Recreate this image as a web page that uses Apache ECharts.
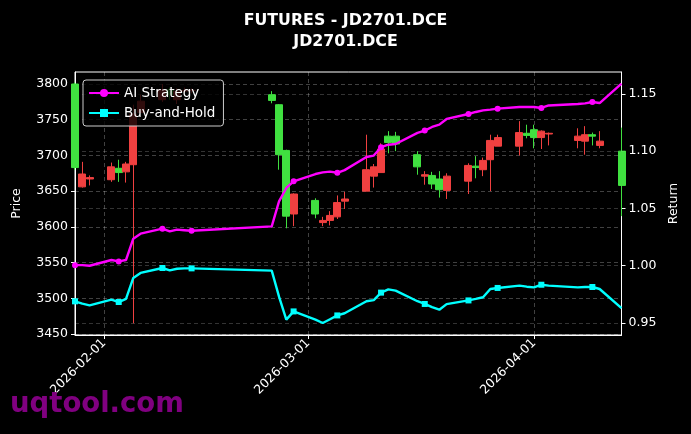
<!DOCTYPE html>
<html><head><meta charset="utf-8">
<script src="https://cdn.jsdelivr.net/npm/echarts@6/dist/echarts.min.js"></script>
<style>html,body{margin:0;padding:0;background:#000}#c{width:691px;height:434px}</style>
</head><body><div id="c"></div>
<script>
const dates = ['2026-01-28','2026-01-29','2026-01-30','2026-02-02','2026-02-03','2026-02-04','2026-02-05','2026-02-06',
  '2026-02-09','2026-02-10','2026-02-11','2026-02-12','2026-02-13',
  '2026-02-24','2026-02-25','2026-02-26','2026-02-27',
  '2026-03-02','2026-03-03','2026-03-04','2026-03-05','2026-03-06',
  '2026-03-09','2026-03-10','2026-03-11','2026-03-12','2026-03-13',
  '2026-03-16','2026-03-17','2026-03-18','2026-03-19','2026-03-20',
  '2026-03-23','2026-03-24','2026-03-25','2026-03-26','2026-03-27',
  '2026-03-30','2026-03-31','2026-04-01','2026-04-02','2026-04-03',
  '2026-04-07','2026-04-08','2026-04-09','2026-04-10','2026-04-13'];
const openP  = [3800,3656,3667,3666,3682,3677,3687,3760, 3778,3792,3778,3790,3791, 3785,3771,3707,3618, 3637,3606,3609,3614,3636, 3650,3671,3676,3727,3727, 3701,3671,3672,3667,3651, 3664,3685,3680,3694,3713, 3713,3731,3736,3725,3730, 3721,3720,3729,3714,3706];
const closeP = [3683,3674,3669,3684,3676,3688,3758,3776, 3792,3785,3790,3791,3791, 3777,3701,3615,3646, 3618,3609,3616,3634,3639, 3680,3684,3709,3718,3716, 3684,3673,3660,3652,3671, 3686,3683,3693,3721,3725, 3732,3728,3725,3734,3731, 3727,3729,3727,3720,3658];
const lowP   = [3680,3655,3658,3663,3663,3662,3465,3765, 3775,3778,3772,3786,3787, 3773,3680,3598,3601, 3612,3601,3602,3611,3625, 3650,3655,3676,3703,3706, 3673,3659,3653,3641,3639, 3646,3668,3671,3650,3713, 3700,3724,3710,3709,3714, 3710,3701,3714,3710,3615];
const highP  = [3802,3691,3672,3690,3694,3691,3771,3785, 3800,3795,3794,3795,3794, 3790,3772,3708,3647, 3640,3614,3622,3644,3649, 3729,3688,3717,3734,3733, 3706,3678,3677,3678,3675, 3689,3699,3697,3729,3729, 3748,3743,3743,3735,3732, 3738,3741,3732,3734,3739];
const aiStrategy = [1.0005,1.0005,1.0000,1.0050,1.0038,1.0050,1.0236,1.0280, 1.0324,1.0300,1.0315,1.0310,1.0305, 1.0344,1.0562,1.0679,1.0737, 1.0801,1.0815,1.0822,1.0812,1.0835, 1.0950,1.0962,1.1035,1.1057,1.1063, 1.1160,1.1180,1.1212,1.1232,1.1282, 1.1325,1.1343,1.1357,1.1363,1.1372, 1.1386,1.1386,1.1386,1.1378,1.1400, 1.1413,1.1418,1.1430,1.1421,1.1590];
const buyHold = [0.9689,0.9669,0.9654,0.9704,0.9683,0.9710,0.9893,0.9937, 0.9980,0.9960,0.9974,0.9977,0.9977, 0.9957,0.9730,0.9529,0.9601, 0.9530,0.9500,0.9533,0.9566,0.9585, 0.9690,0.9700,0.9765,0.9793,0.9782, 0.9690,0.9666,0.9638,0.9616,0.9665, 0.9697,0.9710,0.9725,0.9797,0.9806, 0.9826,0.9817,0.9811,0.9834,0.9826, 0.9811,0.9814,0.9814,0.9797,0.9630];
const xTickLabels = ['2026-02-01','2026-03-01','2026-04-01'];
const priceTicks = [3450,3500,3550,3600,3650,3700,3750,3800];
const returnTicks = [0.95,1.00,1.05,1.10,1.15];

function ts(s){const p=s.split('-').map(Number);return Date.UTC(p[0],p[1]-1,p[2]);}
function fmt(v){const d=new Date(v);const m=d.getUTCMonth()+1,dd=d.getUTCDate();return d.getUTCFullYear()+'-'+(m<10?'0':'')+m+'-'+(dd<10?'0':'')+dd;}
const T = dates.map(ts);
const candle = T.map((t,i)=>[t,openP[i],closeP[i],lowP[i],highP[i]]);
const aiData = T.map((t,i)=>({value:[t,aiStrategy[i]], symbol: i%4===0?'circle':'none'}));
const bhData = T.map((t,i)=>({value:[t,buyHold[i]], symbol: i%4===0?'rect':'none'}));
const xTicksTs = xTickLabels.map(ts);
const FONT = 'DejaVu Sans';
const gridLine = {show:true, lineStyle:{color:'rgba(255,255,255,0.32)', type:[4,3], width:0.8}};

const chart = echarts.init(document.getElementById('c'));
chart.setOption({
  backgroundColor:'#000',
  animation:false,
  title:{text:'FUTURES - JD2701.DCE\nJD2701.DCE', left:'center', top:5,
    textStyle:{color:'#fff', fontSize:15.8, fontWeight:'bold', lineHeight:21, fontFamily:FONT}},
  legend:{left:83, top:80, orient:'vertical', backgroundColor:'rgba(0,0,0,0.8)', borderColor:'#cccccc', borderWidth:1, borderRadius:3,
    padding:[6,8,6,5], itemGap:6, itemWidth:30, itemHeight:10,
    textStyle:{color:'#fff', fontSize:13.5, fontFamily:FONT}, data:['AI Strategy','Buy-and-Hold']},
  grid:{left:75, right:69.5, top:72, bottom:99, show:true, borderColor:'#fff', borderWidth:1, backgroundColor:'#000'},
  xAxis:{type:'value', min:T[0], max:T[T.length-1], scale:true,
    axisLine:{lineStyle:{color:'#fff'}},
    axisTick:{show:true, length:4, lineStyle:{color:'#fff'}, customValues:xTicksTs},
    axisLabel:{color:'#fff', fontSize:12.5, fontFamily:FONT, rotate:45, customValues:xTicksTs, formatter:fmt, margin:6},
    splitLine:gridLine},
  yAxis:[
    {type:'value', min:3448.6, max:3816.8, name:'Price', nameLocation:'middle', nameGap:52, nameRotate:90,
      nameTextStyle:{color:'#fff', fontSize:12.5, fontFamily:FONT},
      axisLine:{show:true, lineStyle:{color:'#fff'}},
      axisTick:{show:true, length:4, lineStyle:{color:'#fff'}, customValues:priceTicks},
      axisLabel:{color:'#fff', fontSize:12.5, fontFamily:FONT, customValues:priceTicks, margin:7, formatter:v=>String(v)},
      splitLine:gridLine},
    {type:'value', min:0.9395, max:1.1692, position:'right', name:'Return', nameLocation:'middle', nameGap:46, nameRotate:90,
      nameTextStyle:{color:'#fff', fontSize:12.5, fontFamily:FONT},
      axisLine:{show:true, lineStyle:{color:'#fff'}},
      axisTick:{show:true, length:4, lineStyle:{color:'#fff'}, customValues:returnTicks},
      axisLabel:{color:'#fff', fontSize:12.5, fontFamily:FONT, customValues:returnTicks, margin:7, formatter:v=>v.toFixed(2)},
      splitLine:{show:true, lineStyle:{color:'rgba(255,255,255,0.25)', type:[4,3], width:0.8}}}
  ],
  series:[
    {type:'candlestick', name:'Price', yAxisIndex:0, data:candle, encode:{x:0, y:[1,2,3,4]}, barWidth:7.5,
      itemStyle:{color:'#f04040', color0:'#40e040', borderColor:'#f04040', borderColor0:'#40e040', borderWidth:1}},
    {type:'line', name:'AI Strategy', yAxisIndex:1, data:aiData, symbol:'circle', symbolSize:6, showAllSymbol:true,
      lineStyle:{color:'#ff00ff', width:2.4}, itemStyle:{color:'#ff00ff'}, z:5},
    {type:'line', name:'Buy-and-Hold', yAxisIndex:1, data:bhData, symbol:'rect', symbolSize:6, showAllSymbol:true,
      lineStyle:{color:'#00ffff', width:2.4}, itemStyle:{color:'#00ffff'}, z:5}
  ],
  graphic:[{type:'text', left:10, top:391, z:100, style:{text:'uqtool.com', fill:'#800080', font:'bold 27.5px "DejaVu Sans"'}}]
});
</script></body></html>
